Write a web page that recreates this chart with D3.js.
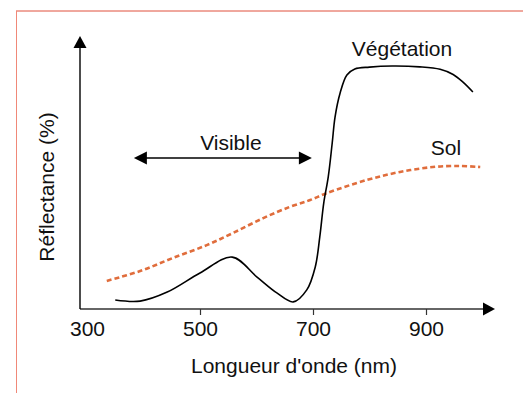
<!DOCTYPE html>
<html>
<head>
<meta charset="utf-8">
<script src="https://cdn.jsdelivr.net/npm/d3@7"></script>
<style>
  body { margin: 0; background: #fff; }
  text { font-family: "Liberation Sans", Arial, sans-serif; fill: #111; }
</style>
</head>
<body>
<div class="chart"></div>
<script>
// wavelength (nm) and reflectance (arbitrary %)
let vegNm = [350, 394, 442, 500, 557, 601, 636, 665, 689, 704, 712, 719, 727, 734, 739, 748, 760, 774, 800, 840, 889, 925, 948, 965, 983];
let vegRefl = [3.3, 2.9, 6.2, 13.2, 19.0, 11.7, 5.9, 2.6, 7.0, 15.4, 26.4, 38.8, 48.4, 60.8, 70.3, 79.1, 85.7, 87.9, 88.6, 89.0, 88.7, 87.8, 85.9, 83.2, 79.5];
let solNm = [335, 394, 452, 512, 558, 612, 659, 695, 725, 796, 854, 912, 960, 996];
let solRefl = [10.3, 13.9, 18.7, 23.4, 27.8, 33.3, 37.4, 39.9, 42.5, 47.3, 50.2, 52.0, 52.4, 52.0];
let tickValues = [300, 500, 700, 900];
let visibleRange = [383, 698];

let width = 523;
let height = 393;

let svg = d3.select(".chart")
  .append("svg")
  .attr("width", width)
  .attr("height", height);

let x = d3.scaleLinear().domain([300, 1000]).range([87, 482.5]);
let y = d3.scaleLinear().domain([0, 100]).range([309, 36]);

// frame
svg.append("line")
  .attr("x1", 16).attr("y1", 11).attr("x2", width).attr("y2", 11)
  .attr("stroke", "#e0503c").attr("stroke-width", 1);
svg.append("line")
  .attr("x1", 16.5).attr("y1", 11).attr("x2", 16.5).attr("y2", height)
  .attr("stroke", "#f08878").attr("stroke-width", 1);

// axes
let x0 = 80;
let y0 = y(0);
svg.append("line")
  .attr("x1", x0).attr("y1", y0).attr("x2", 484).attr("y2", y0)
  .attr("stroke", "#333").attr("stroke-width", 1.4);
svg.append("path")
  .attr("d", "M483," + (y0 - 6.5) + "L495," + y0 + "L483," + (y0 + 6.5) + "Z")
  .attr("fill", "#000");
svg.append("line")
  .attr("x1", x0).attr("y1", y0).attr("x2", x0).attr("y2", 47)
  .attr("stroke", "#000").attr("stroke-width", 1.4);
svg.append("path")
  .attr("d", "M" + (x0 - 6.5) + ",48L" + x0 + ",36L" + (x0 + 6.5) + ",48Z")
  .attr("fill", "#000");

let xAxis = d3.axisBottom(x)
  .tickValues(tickValues)
  .tickSize(6)
  .tickPadding(6)
  .tickFormat(d3.format("d"));

let gx = svg.append("g")
  .attr("transform", "translate(0," + y0 + ")")
  .call(xAxis);
gx.select(".domain").remove();
gx.selectAll(".tick line").attr("stroke", "#333").attr("stroke-width", 1.2);
gx.selectAll(".tick").filter(d => d === 300).select("line").remove();
gx.selectAll(".tick text")
  .attr("font-size", 21)
  .attr("font-family", "Liberation Sans, Arial, sans-serif")
  .attr("fill", "#111");

svg.append("text")
  .attr("x", 294).attr("y", 373)
  .attr("text-anchor", "middle")
  .attr("font-size", 21)
  .text("Longueur d'onde (nm)");

svg.append("text")
  .attr("transform", "translate(54,187) rotate(-90)")
  .attr("text-anchor", "middle")
  .attr("font-size", 21)
  .text("Réflectance (%)");

// curves
let line = d3.line()
  .x(d => x(d[0]))
  .y(d => y(d[1]))
  .curve(d3.curveCatmullRom.alpha(0.5));

svg.append("path")
  .datum(solNm.map((d, i) => [d, solRefl[i]]))
  .attr("d", line)
  .attr("fill", "none")
  .attr("stroke", "#e06d3c")
  .attr("stroke-width", 2.6)
  .attr("stroke-dasharray", "5,3");

svg.append("path")
  .datum(vegNm.map((d, i) => [d, vegRefl[i]]))
  .attr("d", line)
  .attr("fill", "none")
  .attr("stroke", "#000")
  .attr("stroke-width", 1.6);

// visible range arrow
let va = x(visibleRange[0]);
let vb = x(visibleRange[1]);
let vy = 158;
svg.append("line")
  .attr("x1", va + 10).attr("y1", vy).attr("x2", vb - 10).attr("y2", vy)
  .attr("stroke", "#000").attr("stroke-width", 1.5);
svg.append("path")
  .attr("d", "M" + va + "," + vy + "L" + (va + 13) + "," + (vy - 6.5) + "L" + (va + 13) + "," + (vy + 6.5) + "Z")
  .attr("fill", "#000");
svg.append("path")
  .attr("d", "M" + vb + "," + vy + "L" + (vb - 13) + "," + (vy - 6.5) + "L" + (vb - 13) + "," + (vy + 6.5) + "Z")
  .attr("fill", "#000");

svg.append("text")
  .attr("x", (va + vb) / 2 + 8).attr("y", 150)
  .attr("text-anchor", "middle")
  .attr("font-size", 21)
  .text("Visible");

svg.append("text")
  .attr("x", 402).attr("y", 56)
  .attr("text-anchor", "middle")
  .attr("font-size", 21)
  .text("Végétation");

svg.append("text")
  .attr("x", 446).attr("y", 155)
  .attr("text-anchor", "middle")
  .attr("font-size", 21)
  .text("Sol");
</script>
</body>
</html>
